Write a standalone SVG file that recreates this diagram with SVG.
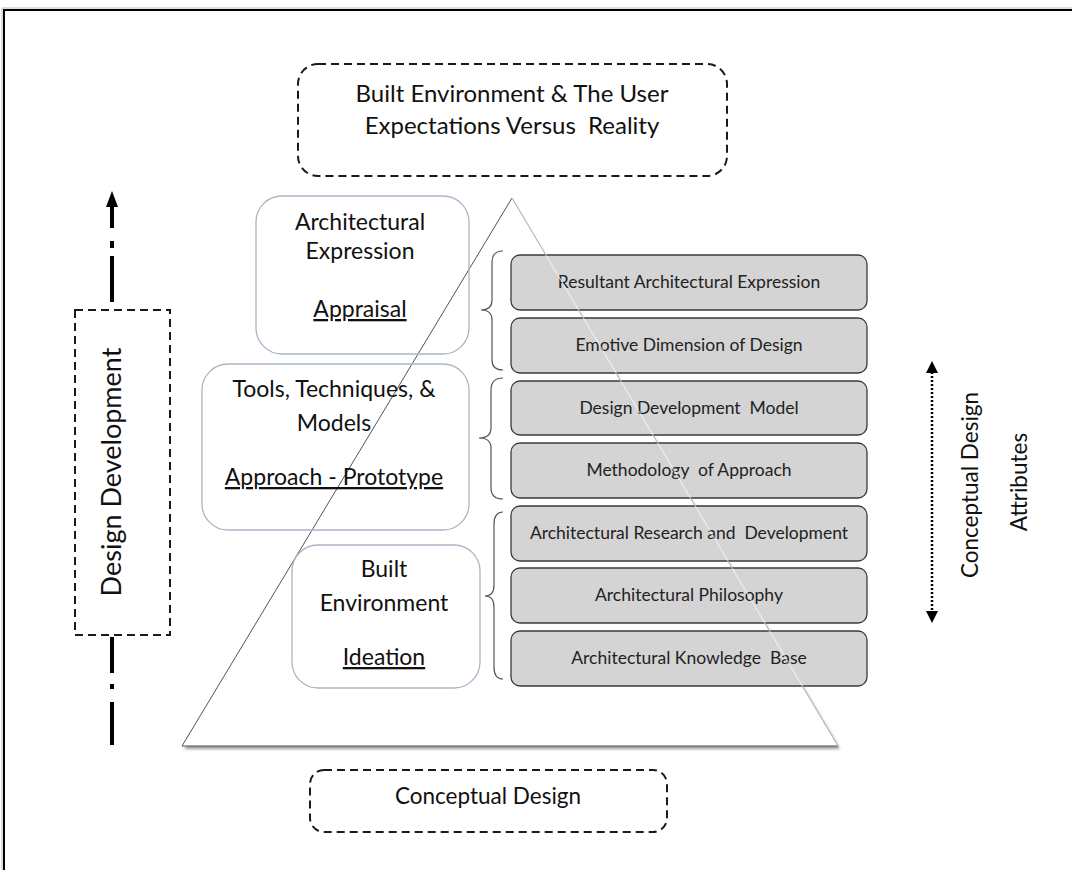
<svg xmlns="http://www.w3.org/2000/svg" width="1072" height="870" viewBox="0 0 1072 870">
<style>
text{font-family:Lato,"Noto Sans",sans-serif;fill:#111;text-anchor:middle;white-space:pre}
.dash{fill:none;stroke:#1a1a1a;stroke-width:2;stroke-dasharray:8,5}
.lbox{fill:none;stroke:#a9b6c6;stroke-width:1.3}
.gbox{fill:#d4d4d4;stroke:#3a3a3a;stroke-width:1.3}
.gt{font-size:17.5px;fill:#222}
.lt{font-size:23px}
.brace{fill:none;stroke:#555;stroke-width:1.2}
.thick{stroke:#000;stroke-width:4;fill:none}
</style>
<defs>
<filter id="sh" x="-5%" y="-5%" width="110%" height="115%"><feGaussianBlur stdDeviation="1.5"/></filter>
</defs>
<rect width="1072" height="870" fill="#fff"/>
<g id="frame"><path d="M4,870 V10 H1072" fill="none" stroke="#000" stroke-width="2"/><path d="M2,870 V8 H1072" fill="none" stroke="#bbb" stroke-width="1"/></g>

<g id="top-box"><rect class="dash" x="298" y="64" width="429" height="112" rx="20"/>
<text x="512" y="102" font-size="24">Built Environment &amp; The User</text>
<text x="512" y="134" font-size="24" xml:space="preserve">Expectations Versus  Reality</text></g>

<g id="pyramid">
<polygon points="512,201 184,749 840,749" fill="#999" filter="url(#sh)"/>
<polygon points="512,198 182,746 838,746" fill="#fff" stroke="#555" stroke-width="1"/>
</g>

<g id="box-appraisal"><rect class="lbox" x="256" y="196" width="213" height="158" rx="26"/>
<text class="lt" x="360" y="230">Architectural</text>
<text class="lt" x="360" y="259">Expression</text>
<text class="lt" x="360" y="317" text-decoration="underline">Appraisal</text></g>

<g id="box-approach"><rect class="lbox" x="202" y="364" width="267" height="166" rx="26"/>
<text class="lt" x="334" y="397">Tools, Techniques, &amp;</text>
<text class="lt" x="334" y="431">Models</text>
<text class="lt" x="334" y="485" text-decoration="underline">Approach - Prototype</text></g>

<g id="box-ideation"><rect class="lbox" x="292" y="545" width="188" height="143" rx="26"/>
<text class="lt" x="384" y="577">Built</text>
<text class="lt" x="384" y="611">Environment</text>
<text class="lt" x="384" y="665" text-decoration="underline">Ideation</text></g>

<g id="connectors">
<path class="brace" d="M503,251 Q492,251 492,262 V300 Q492,310 481,310 Q492,310 492,320 V360 Q492,370 503,370"/>
<path class="brace" d="M503,378 Q491,378 491,390 V428 Q491,438 479,438 Q491,438 491,448 V488 Q491,499 503,499"/>
<path class="brace" d="M503,512 Q494,512 494,524 V585 Q494,596 485,596 Q494,596 494,607 V667 Q494,679 503,679"/>
<line class="thick" x1="112" y1="745" x2="112" y2="702"/>
<line class="thick" x1="112" y1="689" x2="112" y2="684"/>
<line class="thick" x1="112" y1="673" x2="112" y2="637"/>
<line class="thick" x1="112" y1="302" x2="112" y2="256"/>
<line class="thick" x1="112" y1="248" x2="112" y2="241"/>
<line class="thick" x1="112" y1="228" x2="112" y2="206"/>
<path d="M106,207 L112,191 L118,207 z" fill="#000"/>
<line x1="932" y1="372" x2="932" y2="612" stroke="#000" stroke-width="2.5" stroke-dasharray="2,2"/>
<path d="M926,373 L932,361 L938,373 z" fill="#000"/>
<path d="M926,611 L932,623 L938,611 z" fill="#000"/>
</g>

<g id="attr-1"><rect class="gbox" x="511" y="255" width="356" height="55" rx="9"/><text class="gt" x="689" y="288">Resultant Architectural Expression</text></g>
<g id="attr-2"><rect class="gbox" x="511" y="318" width="356" height="55" rx="9"/><text class="gt" x="689" y="351">Emotive Dimension of Design</text></g>
<g id="attr-3"><rect class="gbox" x="511" y="381" width="356" height="54" rx="9"/><text class="gt" x="689" y="414" xml:space="preserve">Design Development  Model</text></g>
<g id="attr-4"><rect class="gbox" x="511" y="443" width="356" height="55" rx="9"/><text class="gt" x="689" y="476" xml:space="preserve">Methodology  of Approach</text></g>
<g id="attr-5"><rect class="gbox" x="511" y="506" width="356" height="55" rx="9"/><text class="gt" x="689" y="539" xml:space="preserve">Architectural Research and  Development</text></g>
<g id="attr-6"><rect class="gbox" x="511" y="568" width="356" height="55" rx="9"/><text class="gt" x="689" y="601">Architectural Philosophy</text></g>
<g id="attr-7"><rect class="gbox" x="511" y="631" width="356" height="55" rx="9"/><text class="gt" x="689" y="664" xml:space="preserve">Architectural Knowledge  Base</text></g>
<line x1="512" y1="198" x2="838" y2="746" stroke="#fff" stroke-opacity="0.6" stroke-width="1.2"/>

<g id="design-development"><rect class="dash" x="75" y="310" width="95" height="325"/>
<text x="0" y="0" font-size="27" transform="translate(121,472) rotate(-90)">Design Development</text></g>

<g id="attributes-label">
<text x="0" y="0" font-size="22.5" transform="translate(978,485) rotate(-90)">Conceptual Design</text>
<text x="0" y="0" font-size="22.5" transform="translate(1027,482) rotate(-90)">Attributes</text></g>

<g id="conceptual-design"><rect class="dash" x="310" y="770" width="357" height="62" rx="14"/>
<text x="488" y="804" font-size="22.5">Conceptual Design</text></g>
</svg>
